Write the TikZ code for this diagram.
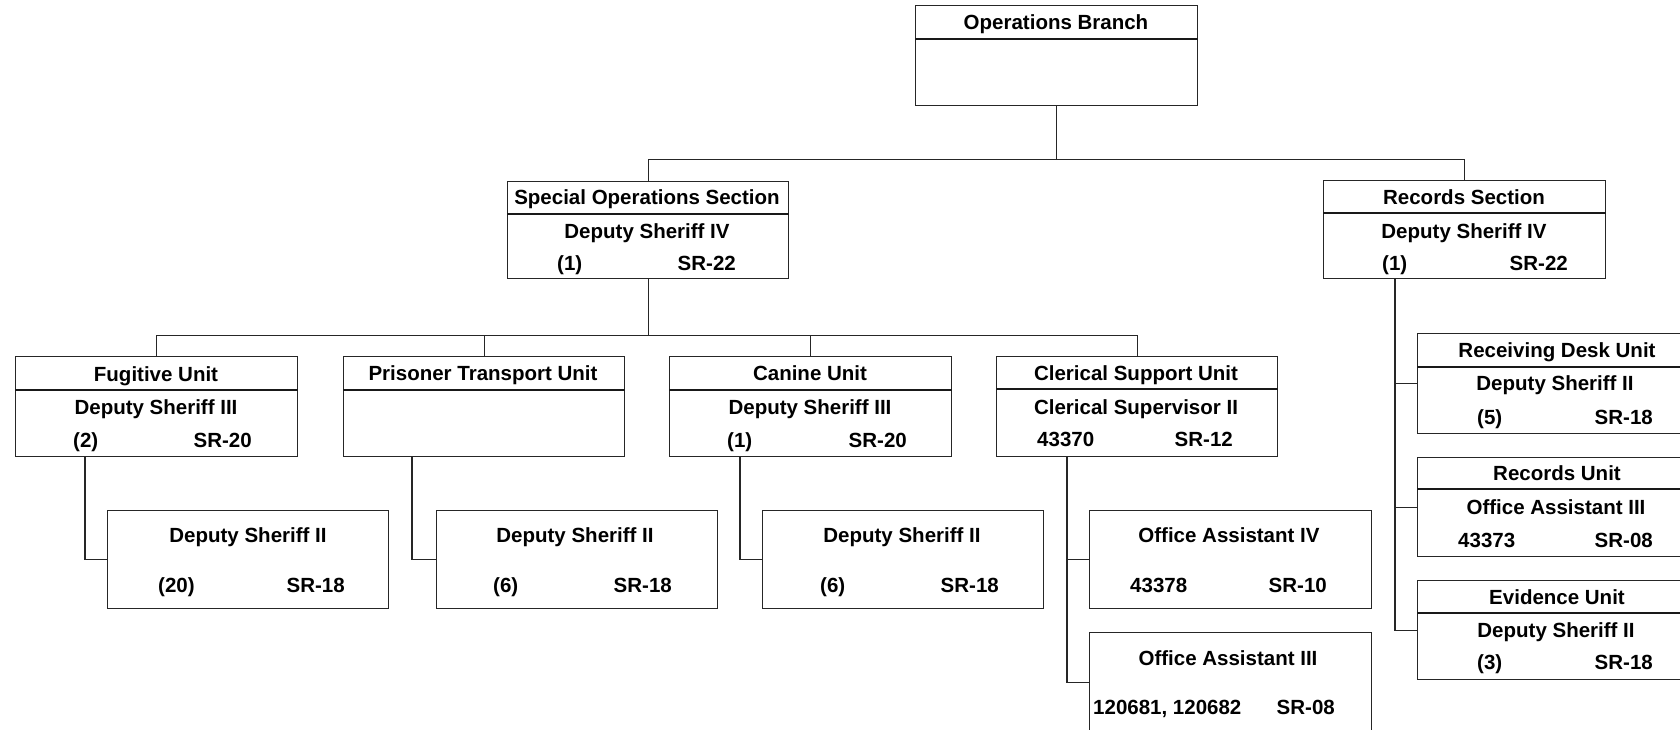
\documentclass[tikz,border=0pt]{standalone}
\usepackage{fontspec}
\setmainfont{Liberation Sans}
\begin{document}
\begin{tikzpicture}[x=1pt,y=-1pt,
  box/.style={draw=black!85, line width=1.2pt, minimum width=282pt, inner sep=0pt, anchor=north west},
  ln/.style={draw=black!85, line width=1.1pt},
  dv/.style={draw=black!90, line width=1.8pt},
  tt/.style={font=\fontsize{20.5}{24}\selectfont\bfseries, inner sep=0pt, anchor=base},
  tw/.style={tt, anchor=base west},
  te/.style={tt, anchor=base east}]
\useasboundingbox (0,0) rectangle (1680,729);
\clip (0,0) rectangle (1680,729);

% ---------- boxes ----------
\node[box, minimum height=100pt] (ops) at (915,5) {};
\node[box, minimum width=281pt, minimum height=97pt] (sos) at (507,181) {};
\node[box, minimum height=98pt] (rec) at (1323,180) {};

\node[box, minimum height=100pt] (fug) at (15,356) {};
\node[box, minimum width=281pt, minimum height=100pt] (pris) at (343,356) {};
\node[box, minimum height=100pt] (can) at (669,356) {};
\node[box, minimum width=281pt, minimum height=100pt] (cler) at (996,356) {};

\node[box, minimum width=281pt, minimum height=98pt] (fugc) at (107,510) {};
\node[box, minimum width=281pt, minimum height=98pt] (prisc) at (436,510) {};
\node[box, minimum width=281pt, minimum height=98pt] (canc) at (762,510) {};
\node[box, minimum height=98pt] (oafour) at (1089,510) {};
\node[box, minimum height=100pt] (oathree) at (1089,632) {};

\node[box, minimum width=290pt, minimum height=100pt] (rdu) at (1417,333) {};
\node[box, minimum width=290pt, minimum height=99pt] (recu) at (1417,457) {};
\node[box, minimum width=290pt, minimum height=99pt] (evu) at (1417,580) {};

% ---------- dividers ----------
\draw[dv] ([yshift=-34pt]ops.north west) -- ([yshift=-34pt]ops.north east);
\draw[dv] ([yshift=-33pt]sos.north west) -- ([yshift=-33pt]sos.north east);
\draw[dv] ([yshift=-33pt]rec.north west) -- ([yshift=-33pt]rec.north east);
\draw[dv] ([yshift=-34pt]fug.north west) -- ([yshift=-34pt]fug.north east);
\draw[dv] ([yshift=-34pt]pris.north west) -- ([yshift=-34pt]pris.north east);
\draw[dv] ([yshift=-34pt]can.north west) -- ([yshift=-34pt]can.north east);
\draw[dv] ([yshift=-33pt]cler.north west) -- ([yshift=-33pt]cler.north east);
\draw[dv] ([yshift=-34pt]rdu.north west) -- ([yshift=-34pt]rdu.north east);
\draw[dv] ([yshift=-32pt]recu.north west) -- ([yshift=-32pt]recu.north east);
\draw[dv] ([yshift=-33pt]evu.north west) -- ([yshift=-33pt]evu.north east);

% ---------- connectors ----------
\draw[ln] (ops.south) -- ++(0,53) coordinate (jone);
\draw[ln] (sos.north) |- (jone) -| (rec.north);
\draw[ln] (sos.south) -- ++(0,56) coordinate (jtwo);
\draw[ln] (fug.north) |- (jtwo) -| (cler.north);
\draw[ln] (pris.north) -- (pris.north |- jtwo);
\draw[ln] (can.north) -- (can.north |- jtwo);

\coordinate (fugD) at ([xshift=70pt]fug.south west);
\coordinate (prisD) at ([xshift=69pt]pris.south west);
\coordinate (canD) at ([xshift=71pt]can.south west);
\coordinate (clerD) at ([xshift=71pt]cler.south west);
\coordinate (recD) at ([xshift=72pt]rec.south west);
\draw[ln] (fugD) |- (fugc.west);
\draw[ln] (prisD) |- (prisc.west);
\draw[ln] (canD) |- (canc.west);
\draw[ln] (clerD) |- (oafour.west);
\draw[ln] (clerD) |- (oathree.west);
\draw[ln] (recD) |- (rdu.west);
\draw[ln] (recD) |- (recu.west);
\draw[ln] (recD) |- (evu.west);

% ---------- texts ----------
\node[tt] (opsT) at (1056,29) {Operations Branch};

\node[tt] (sosT) at (647,204) {Special Operations Section};
\node[tt] (sosA) at (647,238) {Deputy Sheriff IV};
\node[tw] (sosB) at (557,270) {(1)};
\node[te] (sosC) at (736,270) {SR-22};

\node[tt] (recT) at (1464,204) {Records Section};
\node[tt] (recA) at (1464,238) {Deputy Sheriff IV};
\node[tw] (recB) at (1382,270) {(1)};
\node[te] (recC) at (1568,270) {SR-22};

\node[tt] (fugT) at (156,381) {Fugitive Unit};
\node[tt] (fugA) at (156,414) {Deputy Sheriff III};
\node[tw] (fugB) at (73,447) {(2)};
\node[te] (fugC) at (252,447) {SR-20};

\node[tt] (prisT) at (483,380) {Prisoner Transport Unit};

\node[tt] (canT) at (810,380) {Canine Unit};
\node[tt] (canA) at (810,414) {Deputy Sheriff III};
\node[tw] (canB) at (727,447) {(1)};
\node[te] (canC) at (907,447) {SR-20};

\node[tt] (clerT) at (1136,380) {Clerical Support Unit};
\node[tt] (clerA) at (1136,414) {Clerical Supervisor II};
\node[tw] (clerB) at (1037,446) {43370};
\node[te] (clerC) at (1233,446) {SR-12};

\node[tt] (fugcA) at (248,542) {Deputy Sheriff II};
\node[tw] (fugcB) at (158,592) {(20)};
\node[te] (fugcC) at (345,592) {SR-18};

\node[tt] (priscA) at (575,542) {Deputy Sheriff II};
\node[tw] (priscB) at (493,592) {(6)};
\node[te] (priscC) at (672,592) {SR-18};

\node[tt] (cancA) at (902,542) {Deputy Sheriff II};
\node[tw] (cancB) at (820,592) {(6)};
\node[te] (cancC) at (999,592) {SR-18};

\node[tt] (oafourA) at (1229,542) {Office Assistant IV};
\node[tw] (oafourB) at (1130,592) {43378};
\node[te] (oafourC) at (1327,592) {SR-10};

\node[tt] (oathreeA) at (1228,665) {Office Assistant III};
\node[tw] (oathreeB) at (1093,714) {120681, 120682};
\node[te] (oathreeC) at (1335,714) {SR-08};

\node[tt] (rduT) at (1557,357) {Receiving Desk Unit};
\node[tt] (rduA) at (1555,390) {Deputy Sheriff II};
\node[tw] (rduB) at (1477,424) {(5)};
\node[te] (rduC) at (1653,424) {SR-18};

\node[tt] (recuT) at (1557,480) {Records Unit};
\node[tt] (recuA) at (1556,514) {Office Assistant III};
\node[tw] (recuB) at (1458,547) {43373};
\node[te] (recuC) at (1653,547) {SR-08};

\node[tt] (evuT) at (1557,604) {Evidence Unit};
\node[tt] (evuA) at (1556,637) {Deputy Sheriff II};
\node[tw] (evuB) at (1477,669) {(3)};
\node[te] (evuC) at (1653,669) {SR-18};
\end{tikzpicture}
\end{document}
